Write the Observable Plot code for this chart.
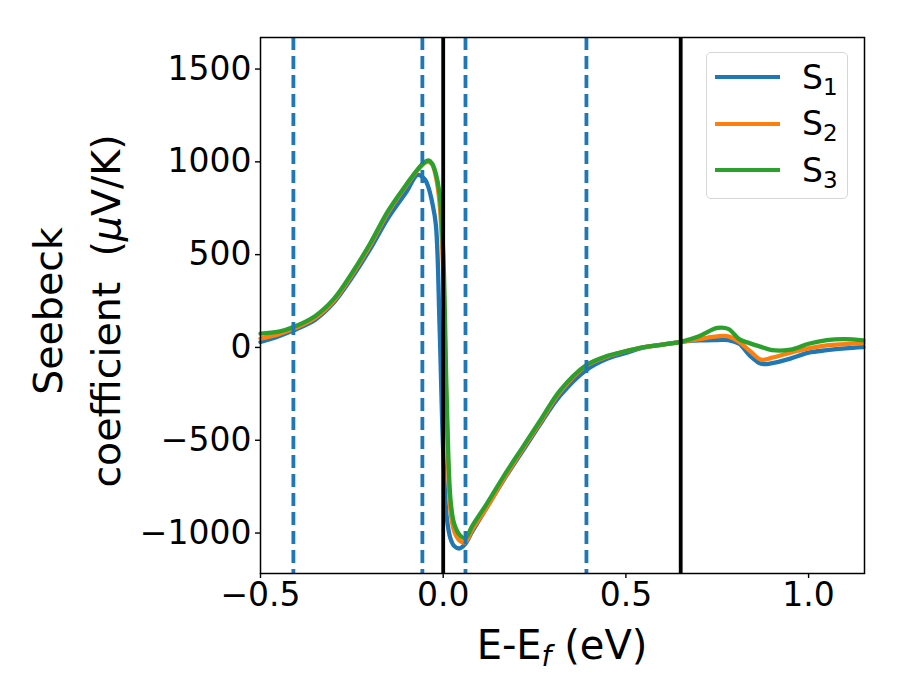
<!DOCTYPE html>
<html>
<head>
<meta charset="utf-8">
<script src="https://cdn.jsdelivr.net/npm/d3@7"></script>
<script src="https://cdn.jsdelivr.net/npm/@observablehq/plot@0.6"></script>
<style>
  body { margin: 0; background: #fff; }
  #wrap { position: relative; width: 900px; height: 700px; font-family: "DejaVu Sans", sans-serif; color: #000; }
  .ylabel { position: absolute; left: 77px; top: 311px; transform: translate(-50%, -50%) rotate(-90deg); font-size: 39.5px; line-height: 58px; text-align: center; white-space: pre; }
  .xlabel { position: absolute; left: 562px; top: 645px; transform: translate(-50%, -50%); font-size: 40px; white-space: pre; }
  .legend { position: absolute; left: 706px; top: 52px; width: 142px; height: 147px; border: 1.5px solid #d6d6d6; border-radius: 5px; background: #fff; box-sizing: border-box; }
  .legend .row { position: absolute; left: 8px; height: 40px; display: flex; align-items: center; }
  .legend .sw { width: 65px; height: 0; border-top: 4px solid; margin-right: 22px; }
  .legend .lab { font-size: 33px; }
  .legend sub { font-size: 23px; vertical-align: -6px; line-height: 0; }
</style>
</head>
<body>
<div id="wrap"></div>
<script>
// ---- data ----
const energy = [-0.5, -0.45, -0.41, -0.35, -0.3, -0.25, -0.2, -0.15, -0.1, -0.07, -0.05, -0.04, -0.03, -0.02, -0.01, 0, 0.01, 0.02, 0.03, 0.045, 0.06, 0.08, 0.12, 0.17, 0.22, 0.27, 0.32, 0.39, 0.45, 0.5, 0.55, 0.6, 0.65, 0.7, 0.75, 0.78, 0.81, 0.84, 0.87, 0.9, 0.95, 1.0, 1.05, 1.1, 1.15];
const s1 = [29, 60, 92, 150, 240, 375, 530, 700, 840, 930, 905, 860, 780, 660, 120, -560, -920, -1030, -1070, -1083, -1060, -990, -860, -700, -550, -400, -260, -124, -60, -30, 0, 15, 30, 38, 40, 40, 20, -45, -88, -85, -60, -28, -15, -5, 2];
const s2 = [48, 72, 100, 160, 250, 390, 550, 730, 875, 955, 995, 1000, 985, 920, 780, 400, -400, -880, -990, -1040, -1050, -980, -860, -695, -540, -390, -240, -100, -48, -20, 2, 15, 30, 45, 60, 60, 30, -20, -66, -55, -28, -5, 11, 18, 23];
const s3 = [75, 85, 110, 170, 260, 400, 560, 738, 880, 960, 1000, 1008, 990, 935, 830, 520, -300, -820, -950, -1010, -1028, -960, -840, -680, -530, -380, -231, -97, -45, -20, 2, 15, 30, 60, 105, 100, 45, 22, 3, -15, -12, 20, 40, 45, 38];
const seriesNames = ["S1", "S2", "S3"];
const seriesColors = ["#1f77b4", "#ff7f0e", "#2ca02c"];
const dashedX = [-0.41, -0.057, 0.061, 0.392];
const solidX = [0, 0.65];
const xTicks = [-0.5, 0, 0.5, 1.0];
const yTicks = [-1000, -500, 0, 500, 1000, 1500];
const xDomain = [-0.5, 1.153];
const yDomain = [-1218, 1670];

const allSeries = [s1, s2, s3];
const rows = allSeries.flatMap((vals, k) => vals.map((v, i) => ({e: energy[i], s: v, name: seriesNames[k]})));

const chart = Plot.plot({
  width: 900,
  height: 700,
  marginLeft: 260,
  marginRight: 36,
  marginTop: 37,
  marginBottom: 127,
  style: {fontFamily: "DejaVu Sans, sans-serif", fontSize: "33px", color: "#000", background: "#fff"},
  x: {domain: xDomain},
  y: {domain: yDomain},
  color: {domain: seriesNames, range: seriesColors},
  marks: [
    Plot.line(rows, {x: "e", y: "s", z: "name", stroke: "name", strokeWidth: 4.3, curve: "catmull-rom"}),
    Plot.ruleX(dashedX, {stroke: "#1f77b4", strokeWidth: 3.8, strokeDasharray: "13,6"}),
    Plot.ruleX(solidX, {stroke: "#000", strokeWidth: 3.8}),
    Plot.frame({stroke: "#000", strokeWidth: 1.5}),
    Plot.axisX({ticks: xTicks, tickFormat: d3.format(".1f"), tickSize: 5, tickPadding: 4, fontSize: 33, label: null, stroke: "#000", strokeWidth: 1.4}),
    Plot.axisY({ticks: yTicks, tickFormat: d3.format("d"), tickSize: 5, tickPadding: 4, fontSize: 33, label: null, stroke: "#000", strokeWidth: 1.4})
  ]
});

const wrap = document.getElementById("wrap");
wrap.appendChild(chart);

const yl = document.createElement("div");
yl.className = "ylabel";
yl.innerHTML = "Seebeck\ncoefficient  (<i>μ</i>V/K)";
wrap.appendChild(yl);

const xl = document.createElement("div");
xl.className = "xlabel";
xl.innerHTML = "E-E<sub style=\"font-size:28px;vertical-align:-7px;line-height:0\"><i>f</i></sub> (eV)";
wrap.appendChild(xl);

const lg = document.createElement("div");
lg.className = "legend";
seriesNames.forEach((n, k) => {
  const r = document.createElement("div");
  r.className = "row";
  r.style.top = (4 + k * 46.5) + "px";
  r.innerHTML = `<span class="sw" style="border-color:${seriesColors[k]}"></span><span class="lab">S<sub>${k + 1}</sub></span>`;
  lg.appendChild(r);
});
wrap.appendChild(lg);
</script>
</body>
</html>
